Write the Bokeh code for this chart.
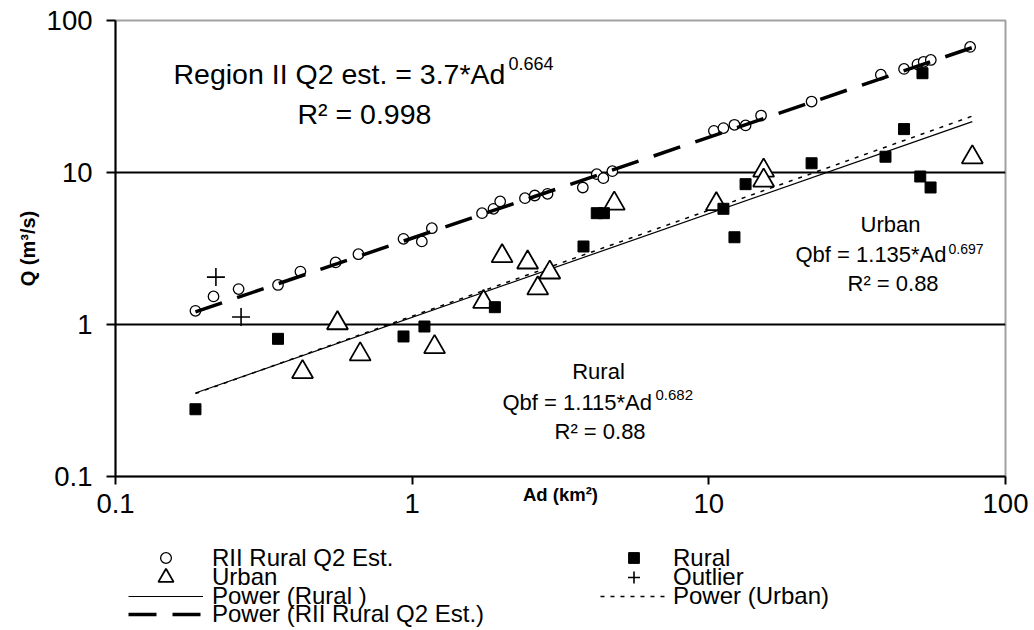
import numpy as np
from bokeh.plotting import figure
from bokeh.layouts import column
from bokeh.models import Range1d, FixedTicker, Label, Legend, LegendItem
from bokeh.embed import file_html
from bokeh.resources import INLINE

FONT = "Liberation Sans"

# ---- data ----
rii_ad = [0.186, 0.214, 0.260, 0.353, 0.420, 0.552, 0.659, 0.935, 1.078, 1.165,
          1.72, 1.88, 1.98, 2.40, 2.59, 2.86, 3.76, 4.19, 4.41, 4.73,
          10.4, 11.2, 12.2, 13.3, 15.0, 22.2, 38.0, 45.5, 50.5, 53.0, 56.0, 76.0]
rii_q = [1.23, 1.53, 1.71, 1.82, 2.23, 2.56, 2.90, 3.66, 3.52, 4.30,
         5.40, 5.77, 6.45, 6.78, 7.06, 7.24, 7.97, 9.75, 9.18, 10.2,
         18.8, 19.6, 20.6, 20.4, 23.7, 29.3, 44.0, 48.0, 51.5, 53.5, 55.0, 67.0]

rural_ad = [0.186, 0.353, 0.935, 1.10, 1.90, 3.78, 4.19, 4.43, 11.2, 12.2,
            13.3, 22.2, 39.4, 45.5, 51.6, 55.9, 52.5]
rural_q = [0.277, 0.805, 0.834, 0.97, 1.30, 3.26, 5.40, 5.40, 5.77, 3.75,
           8.38, 11.5, 12.7, 19.3, 9.41, 7.97, 45.0]

urban_ad = [0.427, 0.560, 0.668, 1.19, 1.74, 2.01, 2.45, 2.65, 2.91, 4.80,
            10.6, 15.3, 15.3, 77.3]
urban_q = [0.487, 1.02, 0.637, 0.711, 1.41, 2.82, 2.56, 1.73, 2.20, 6.25,
           6.2, 10.3, 8.86, 12.6]

outlier_ad = [0.218, 0.265]
outlier_q = [2.05, 1.12]

# power trendlines printed on the chart: Q = a * Ad^b
fit_ad = [0.186, 77.3]
rii_a, rii_b = 3.7, 0.664
rural_a, rural_b = 1.115, 0.682
urban_a, urban_b = 1.135, 0.697

fx = np.array(fit_ad)
rii_fit = rii_a * fx ** rii_b
rural_fit = rural_a * fx ** rural_b
urban_fit = urban_a * fx ** urban_b

x_ticks = [0.1, 1, 10, 100]
y_ticks = [0.1, 1, 10, 100]
tick_text = {0.1: "0.1", 1: "1", 10: "10", 100: "100"}

# ---- main figure ----
p = figure(width=1034, height=540, x_axis_type="log", y_axis_type="log",
           x_range=Range1d(0.1, 100), y_range=Range1d(0.1, 100),
           output_backend="svg", toolbar_location=None,
           min_border_left=115, min_border_right=29,
           min_border_top=20, min_border_bottom=64)
p.background_fill_color = "white"
p.border_fill_color = "white"
p.outline_line_color = "#a0a0a0"
p.outline_line_width = 2

for ax in (p.xaxis[0], p.yaxis[0]):
    ax.axis_line_color = "black"
    ax.axis_line_width = 2
    ax.major_tick_line_color = "black"
    ax.major_tick_line_width = 2
    ax.major_tick_in = 0
    ax.minor_tick_line_color = None
    ax.major_label_text_font = FONT
    ax.major_label_text_font_size = "27.5px"
    ax.major_label_text_color = "black"
    ax.major_label_overrides = tick_text
    ax.axis_label_text_font = FONT
    ax.axis_label_text_font_style = "bold"
    ax.axis_label_text_color = "black"

p.xaxis[0].ticker = FixedTicker(ticks=x_ticks)
p.yaxis[0].ticker = FixedTicker(ticks=y_ticks)
p.xaxis[0].major_tick_out = 8
p.yaxis[0].major_tick_out = 9
p.xaxis[0].major_label_standoff = 9
p.yaxis[0].major_label_standoff = 14
p.xaxis[0].axis_label = "Ad (km²)"
p.xaxis[0].axis_label_text_font_size = "18.5px"
p.xaxis[0].axis_label_standoff = -32
p.yaxis[0].axis_label = "Q (m³/s)"
p.yaxis[0].axis_label_text_font_size = "20px"
p.yaxis[0].axis_label_standoff = 5

p.xgrid.visible = False
p.ygrid[0].ticker = FixedTicker(ticks=[1, 10])
p.ygrid[0].grid_line_color = "black"
p.ygrid[0].grid_line_width = 2

# ---- series ----
circ_style = dict(marker="circle", fill_color="white", line_color="black", line_width=1.3)
tri_style = dict(marker="triangle", fill_color="white", line_color="black", line_width=1.8)
sq_style = dict(marker="square", fill_color="black", line_color="black")
plus_style = dict(marker="cross", line_color="black", line_width=1.6)
rii_line = dict(line_color="black", line_width=3.5, line_dash="28 16")
rur_line = dict(line_color="black", line_width=1.2)
urb_line = dict(line_color="black", line_width=1.5, line_dash="4 6")

p.scatter(rii_ad, rii_q, size=10.5, **circ_style)
p.line(fx, rii_fit, **rii_line)
p.line(fx, rural_fit, **rur_line)
p.line(fx, urban_fit, **urb_line)
p.scatter(urban_ad, urban_q, size=21, **tri_style)
p.scatter(rural_ad, rural_q, size=11, **sq_style)
p.scatter(outlier_ad, outlier_q, size=18, **plus_style)


# ---- annotations (positions relative to plot frame) ----
def lab(text, rx, ry, fs, align="left"):
    # ry = wanted baseline in page pixels; small lift compensates text placement
    p.add_layout(Label(x=rx - 115, y=476 - ry + 0.4 * fs, x_units="screen",
                       y_units="screen", text=text, text_font=FONT,
                       text_font_size=f"{fs}px", text_align=align,
                       text_baseline="alphabetic", text_color="black"))

lab("Region II Q2 est. = 3.7*Ad", 173, 85, 28.5)
lab("0.664", 508, 70, 18)
lab("R² = 0.998", 297, 125, 28.5)

lab("Urban", 890, 233, 22, align="center")
lab("Qbf = 1.135*Ad", 795, 263, 22)
lab("0.697", 948, 254, 14)
lab("R² = 0.88", 847, 292, 22)

lab("Rural", 598, 380, 22, align="center")
lab("Qbf = 1.115*Ad", 502, 411, 22)
lab("0.682", 655, 400, 15)
lab("R² = 0.88", 554, 440, 22)

# ---- legend strip below the chart (series drawn off-view, legend only) ----
p2 = figure(width=1034, height=90, x_range=Range1d(-2, -1), y_range=Range1d(-2, -1),
            x_axis_location=None, y_axis_location=None, toolbar_location=None,
            output_backend="svg", min_border=0)
p2.grid.visible = False
p2.outline_line_color = None
p2.background_fill_color = "white"
p2.border_fill_color = "white"

g_circ = p2.scatter(rii_ad, rii_q, **circ_style)
g_tri = p2.scatter(urban_ad, urban_q, **tri_style)
g_sq = p2.scatter(rural_ad, rural_q, **sq_style)
g_plus = p2.scatter(outlier_ad, outlier_q, **plus_style)
g_rii = p2.line(fx, rii_fit, **rii_line)
g_rur = p2.line(fx, rural_fit, **rur_line)
g_urb = p2.line(fx, urban_fit, **urb_line)

FRAME_LEFT = 115  # legend strip frame is aligned with the chart frame


def leg(renderer, text, gx, cy, gw, H, standoff):
    L = Legend(items=[LegendItem(label=text, renderers=[renderer])],
               location=(gx - FRAME_LEFT, 630 - cy - H / 2),
               padding=0, margin=0, spacing=0,
               border_line_color=None, background_fill_alpha=0,
               glyph_width=gw, glyph_height=H, label_height=H,
               label_standoff=standoff, label_text_font=FONT,
               label_text_font_size="24px", label_text_color="black")
    p2.add_layout(L)

leg(g_circ, "RII Rural Q2 Est.", 128, 558, 75, 27, 9)
leg(g_tri, "Urban", 128, 577, 75, 38, 9)
leg(g_rur, "Power (Rural )", 128, 595.5, 75, 28, 9)
leg(g_rii, "Power (RII Rural Q2 Est.)", 128, 614, 75, 28, 9)
leg(g_sq, "Rural", 600, 558, 67, 27, 6)
leg(g_plus, "Outlier", 600, 577, 67, 30, 6)
leg(g_urb, "Power (Urban)", 600, 595.5, 67, 28, 6)

open("out.html", "w").write(file_html(column(p, p2), INLINE))
